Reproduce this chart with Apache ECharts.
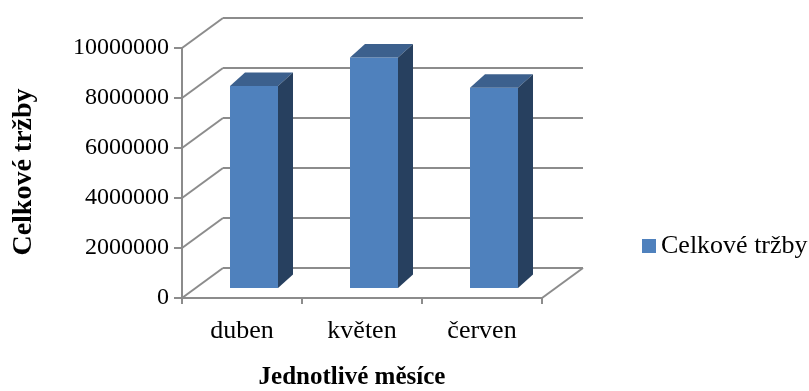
<!DOCTYPE html>
<html>
<head>
<meta charset="utf-8">
<script src="https://cdn.jsdelivr.net/npm/echarts@6/dist/echarts.min.js"></script>
<style>
  html, body { margin: 0; padding: 0; background: #ffffff; }
  #chart { width: 809px; height: 391px; }
</style>
</head>
<body>
<div id="chart"></div>
<script>
// Monthly total sales
const categories = ['duben', 'květen', 'červen'];
const sales = [8080000, 9220000, 8010000];
const yTicks = [0, 2000000, 4000000, 6000000, 8000000, 10000000];
const seriesName = 'Celkové tržby';
const xTitle = 'Jednotlivé měsíce';
const yTitle = 'Celkové tržby';

const SERIF = '"Liberation Serif", "Times New Roman", serif';
const GRID_COLOR = '#8c8c8c';
const GRID_WIDTH = 2;

// oblique depth of the chart box (front plane -> back wall)
const WALL_DX = 41, WALL_DY = -30;
// bar placement inside the box and its own depth
const BAR_OX = 12, BAR_OY = -10, BAR_DX = 15, BAR_DY = -13.5;

const chart = echarts.init(document.getElementById('chart'), null, { renderer: 'canvas' });

function renderWall(params, api) {
  const cs = params.coordSys;
  const v = api.value(1);
  const y = api.coord([0, v])[1];
  const gx = cs.x, gw = cs.width;
  const style = { stroke: GRID_COLOR, lineWidth: GRID_WIDTH, fill: null };
  const children = [
    { type: 'line', shape: { x1: gx, y1: y, x2: gx + WALL_DX, y2: y + WALL_DY }, style },
    { type: 'line', shape: { x1: gx + WALL_DX, y1: y + WALL_DY, x2: gx + gw + WALL_DX, y2: y + WALL_DY }, style }
  ];
  if (v === 0) {
    children.push({ type: 'line', shape: { x1: gx + gw, y1: y, x2: gx + gw + WALL_DX, y2: y + WALL_DY }, style });
  }
  return { type: 'group', children };
}

function renderBar(params, api) {
  const i = api.value(0);
  const v = api.value(1);
  const top = api.coord([i, v]);
  const base = api.coord([i, 0]);
  const band = api.size([1, 0])[0];
  const w = band * 0.4;
  const x0 = top[0] - w / 2 + BAR_OX;
  const x1 = x0 + w;
  const yt = top[1] + BAR_OY;
  const yb = base[1] + BAR_OY;
  return {
    type: 'group',
    children: [
      { type: 'rect', shape: { x: x0, y: yt, width: w, height: yb - yt }, style: { fill: '#4f81bd' } },
      { type: 'polygon', shape: { points: [[x0, yt], [x1, yt], [x1 + BAR_DX, yt + BAR_DY], [x0 + BAR_DX, yt + BAR_DY]] }, style: { fill: '#3c608d' } },
      { type: 'polygon', shape: { points: [[x1, yt], [x1 + BAR_DX, yt + BAR_DY], [x1 + BAR_DX, yb + BAR_DY], [x1, yb]] }, style: { fill: '#27405f' } }
    ]
  };
}

const option = {
  backgroundColor: '#ffffff',
  animation: false,
  grid: { left: 182, top: 48, right: 267, bottom: 93, containLabel: false },
  legend: {
    data: [{ name: seriesName, icon: 'rect' }],
    left: 642,
    top: 233,
    padding: 0,
    itemWidth: 14,
    itemHeight: 14,
    itemGap: 6,
    textStyle: { fontFamily: SERIF, fontSize: 26, color: '#000', padding: [0, 0, 0, 0] },
    selectedMode: false
  },
  xAxis: {
    type: 'category',
    data: categories,
    boundaryGap: true,
    axisLine: { show: true, lineStyle: { color: GRID_COLOR, width: GRID_WIDTH } },
    axisTick: { show: true, length: 6, lineStyle: { color: GRID_COLOR, width: GRID_WIDTH } },
    axisLabel: { fontFamily: SERIF, fontSize: 26, color: '#000', margin: 20 },
    splitLine: { show: false }
  },
  yAxis: {
    type: 'value',
    min: 0,
    max: 10000000,
    interval: 2000000,
    axisLine: { show: true, lineStyle: { color: GRID_COLOR, width: GRID_WIDTH } },
    axisTick: { show: true, length: 8, lineStyle: { color: GRID_COLOR, width: GRID_WIDTH } },
    axisLabel: { fontFamily: SERIF, fontSize: 24, color: '#000', margin: 13, formatter: v => String(v) },
    splitLine: { show: false }
  },
  graphic: [
    {
      type: 'text', x: 352, y: 378, silent: true,
      style: { text: xTitle, font: 'bold 25px ' + SERIF, fill: '#000', textAlign: 'center', textVerticalAlign: 'middle' }
    },
    {
      type: 'text', x: 24, y: 172, rotation: Math.PI / 2, silent: true,
      style: { text: yTitle, font: 'bold 28px ' + SERIF, fill: '#000', textAlign: 'center', textVerticalAlign: 'middle' }
    }
  ],
  series: [
    {
      type: 'custom',
      silent: true,
      z: 1,
      renderItem: renderWall,
      data: yTicks.map(t => [0, t]),
      encode: { x: 0, y: 1 }
    },
    {
      type: 'custom',
      name: seriesName,
      z: 2,
      itemStyle: { color: '#4f81bd' },
      renderItem: renderBar,
      data: sales.map((v, i) => [i, v]),
      encode: { x: 0, y: 1 }
    }
  ]
};

chart.setOption(option);
</script>
</body>
</html>
